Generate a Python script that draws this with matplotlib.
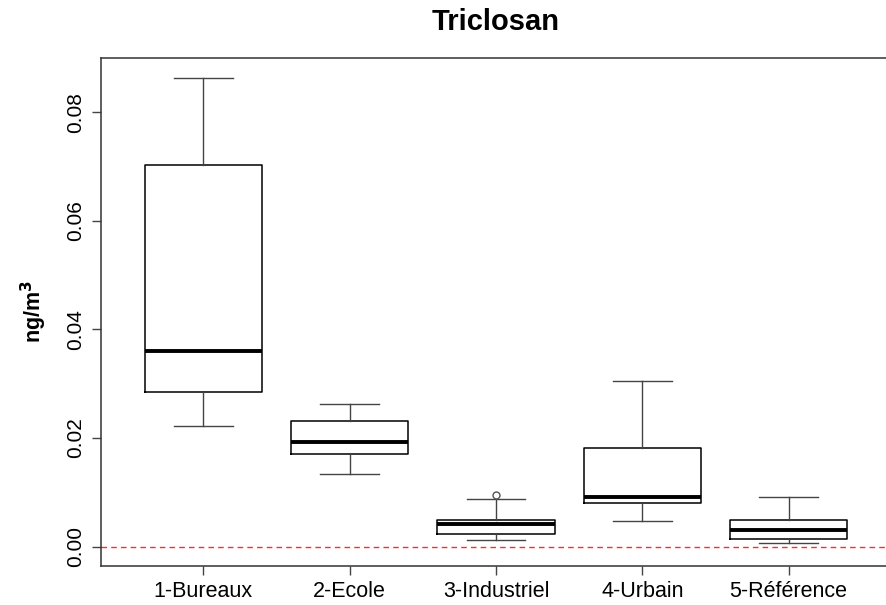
import matplotlib.pyplot as plt

plt.rcParams['font.family'] = ['Liberation Sans', 'DejaVu Sans']

# Triclosan concentrations per site type (ng/m3): box-plot summary stats
sites = ['1-Bureaux', '2-Ecole', '3-Industriel', '4-Urbain', '5-Référence']
whisker_low = [0.0222, 0.0133, 0.0012, 0.0047, 0.0007]
q1 = [0.0285, 0.0171, 0.0024, 0.0080, 0.0014]
median = [0.0361, 0.0193, 0.0041, 0.0092, 0.0030]
q3 = [0.0703, 0.0232, 0.0050, 0.0181, 0.0049]
whisker_high = [0.0864, 0.0262, 0.0088, 0.0305, 0.0092]
outliers = [[], [], [0.0096], [], []]

stats = []
for i in range(len(sites)):
    stats.append({'label': sites[i], 'whislo': whisker_low[i], 'q1': q1[i],
                  'med': median[i], 'q3': q3[i], 'whishi': whisker_high[i],
                  'fliers': outliers[i]})

fig = plt.figure(figsize=(8.87, 6.05), dpi=100)
ax = fig.add_axes([0.1139, 0.0645, 0.8906, 0.8397])

pos = list(range(1, len(sites) + 1))
ax.bxp(stats, positions=pos, widths=0.8, capwidths=0.4,
       boxprops=dict(color='black', linewidth=1.1),
       medianprops=dict(color='black', linewidth=2.8),
       whiskerprops=dict(color='#444444', linewidth=1.0),
       capprops=dict(color='#444444', linewidth=1.0),
       flierprops=dict(marker='o', markersize=5, markerfacecolor='white',
                       markeredgecolor='#555555', markeredgewidth=1.0))

ax.axhline(0, color='#ff2a2a', linestyle=(0, (4, 3)), linewidth=1.0)

ax.set_xlim(0.3, 5.7)
ax.set_ylim(-0.00355, 0.0900)
ax.set_yticks([0.0, 0.02, 0.04, 0.06, 0.08])
ax.set_yticklabels(['0.00', '0.02', '0.04', '0.06', '0.08'], rotation=90,
                   va='center', fontsize=15)
ax.set_xticks(pos)
ax.set_xticklabels(sites, fontsize=15.5)
ax.tick_params(axis='both', length=6.5, width=1, color='#444444', pad=5)
ax.tick_params(axis='x', pad=4)

for s in ax.spines.values():
    s.set_color('#333333')
    s.set_linewidth(1.1)

ax.set_ylabel('ng/m$^\\mathbf{3}$', fontsize=15.5, fontweight='bold', labelpad=12)
ax.set_title('Triclosan', fontsize=21, fontweight='bold', pad=20)

fig.savefig('out.png', dpi=100)
